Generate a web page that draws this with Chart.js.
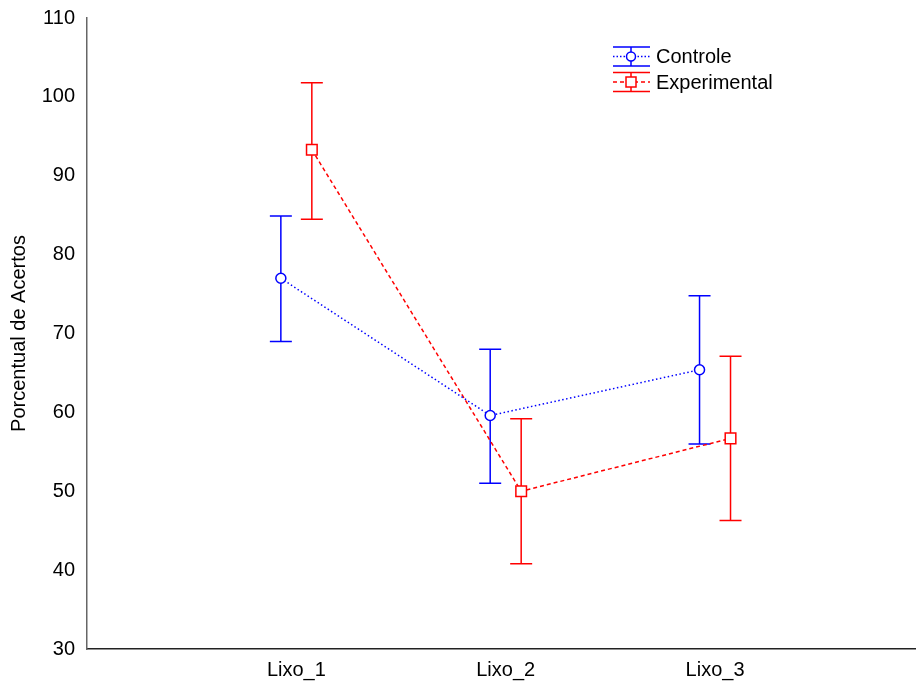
<!DOCTYPE html>
<html>
<head>
<meta charset="utf-8">
<script src="https://cdn.jsdelivr.net/npm/chart.js@4"></script>
<style>
html,body{margin:0;padding:0;background:#fff;}
#wrap{width:916px;height:686px;}
</style>
</head>
<body>
<div id="wrap"><canvas id="c" width="916" height="686"></canvas></div>
<script>
const categories = ["Lixo_1", "Lixo_2", "Lixo_3"];
const seriesNames = ["Controle", "Experimental"];
const controleMean = [77.0, 59.6, 65.4];
const controleUpper = [84.9, 68.0, 74.8];
const controleLower = [69.0, 51.0, 56.0];
const experimentalMean = [93.3, 50.0, 56.7];
const experimentalUpper = [101.8, 59.2, 67.1];
const experimentalLower = [84.5, 40.8, 46.3];
const yTicks = [30, 40, 50, 60, 70, 80, 90, 100, 110];

const OFFSET = 0.074;
const FONT = "'Liberation Sans', Arial, sans-serif";

function pts(means, lows, highs, off) {
  return means.map((m, i) => ({ x: i + 1 + off, y: m, lo: lows[i], hi: highs[i] }));
}

const errorBars = {
  id: 'errorBars',
  beforeDatasetsDraw(chart) {
    const ctx = chart.ctx;
    const ys = chart.scales.y, xs = chart.scales.x;
    chart.data.datasets.forEach(ds => {
      ctx.save();
      ctx.strokeStyle = ds.borderColor;
      ctx.lineWidth = 1.5;
      ctx.setLineDash([]);
      ds.data.forEach(p => {
        const x = xs.getPixelForValue(p.x);
        const y1 = ys.getPixelForValue(p.hi);
        const y2 = ys.getPixelForValue(p.lo);
        ctx.beginPath();
        ctx.moveTo(x, y1); ctx.lineTo(x, y2);
        ctx.moveTo(x - 11, y1); ctx.lineTo(x + 11, y1);
        ctx.moveTo(x - 11, y2); ctx.lineTo(x + 11, y2);
        ctx.stroke();
      });
      ctx.restore();
    });
  }
};

const customLegend = {
  id: 'customLegend',
  afterDraw(chart) {
    const ctx = chart.ctx;
    const items = [
      { name: seriesNames[0], color: 'blue', dash: [1.5, 2], shape: 'circle', cy: 56.5 },
      { name: seriesNames[1], color: 'red', dash: [4, 3], shape: 'rect', cy: 82 }
    ];
    const x0 = 613, x1 = 650, xc = 631;
    items.forEach(it => {
      ctx.save();
      ctx.strokeStyle = it.color;
      ctx.lineWidth = 1.5;
      ctx.setLineDash([]);
      ctx.beginPath();
      ctx.moveTo(x0, it.cy - 9.5); ctx.lineTo(x1, it.cy - 9.5);
      ctx.moveTo(x0, it.cy + 9.5); ctx.lineTo(x1, it.cy + 9.5);
      ctx.moveTo(xc, it.cy - 9.5); ctx.lineTo(xc, it.cy + 9.5);
      ctx.stroke();
      ctx.setLineDash(it.dash);
      ctx.beginPath();
      ctx.moveTo(x0, it.cy); ctx.lineTo(x1, it.cy);
      ctx.stroke();
      ctx.setLineDash([]);
      ctx.fillStyle = '#fff';
      ctx.beginPath();
      if (it.shape === 'circle') ctx.arc(xc, it.cy, 4.5, 0, Math.PI * 2);
      else ctx.rect(xc - 5, it.cy - 5, 10, 10);
      ctx.fill(); ctx.stroke();
      ctx.fillStyle = '#000';
      ctx.font = '20px ' + FONT;
      ctx.textBaseline = 'middle';
      ctx.textAlign = 'left';
      ctx.fillText(it.name, 656, it.cy + 1);
      ctx.restore();
    });
  }
};

new Chart(document.getElementById('c'), {
  type: 'scatter',
  data: {
    datasets: [
      {
        label: seriesNames[0],
        data: pts(controleMean, controleLower, controleUpper, -OFFSET),
        showLine: true,
        borderColor: 'blue',
        backgroundColor: '#fff',
        borderWidth: 1.5,
        borderDash: [1.5, 2.5],
        pointStyle: 'circle',
        pointRadius: 5,
        pointBorderWidth: 1.5,
        pointBackgroundColor: '#fff',
        pointBorderColor: 'blue'
      },
      {
        label: seriesNames[1],
        data: pts(experimentalMean, experimentalLower, experimentalUpper, OFFSET),
        showLine: true,
        borderColor: 'red',
        backgroundColor: '#fff',
        borderWidth: 1.5,
        borderDash: [4, 3],
        pointStyle: 'rect',
        pointRadius: 7.5,
        pointBorderWidth: 1.5,
        pointBackgroundColor: '#fff',
        pointBorderColor: 'red'
      }
    ]
  },
  options: {
    responsive: false,
    animation: false,
    layout: { autoPadding: false, padding: { top: 18, right: 0, bottom: 0, left: 0 } },
    plugins: {
      legend: { display: false },
      tooltip: { enabled: false }
    },
    scales: {
      x: {
        type: 'linear',
        min: 0,
        max: 3.96,
        afterFit(scale) { scale.height = 37; scale.paddingLeft = 0; scale.paddingRight = 0; },
        afterBuildTicks(scale) { scale.ticks = categories.map((c, i) => ({ value: i + 1 })); },
        grid: { display: false, drawTicks: false },
        border: { color: '#222', width: 1.5 },
        ticks: {
          padding: 9,
          color: '#000',
          font: { family: FONT, size: 20 },
          maxRotation: 0,
          callback: (v) => categories[Math.round(v) - 1]
        }
      },
      y: {
        min: 30,
        max: 110,
        afterFit(scale) { scale.width = 87; scale.paddingTop = 0; scale.paddingBottom = 0; },
        afterBuildTicks(scale) { scale.ticks = yTicks.map(v => ({ value: v })); },
        grid: { display: false, drawTicks: false },
        border: { color: '#666', width: 1.5 },
        ticks: {
          padding: 12,
          color: '#000',
          font: { family: FONT, size: 20 }
        },
        title: {
          display: true,
          text: 'Porcentual de Acertos',
          color: '#000',
          font: { family: FONT, size: 20 },
          padding: { top: 7, bottom: 0 }
        }
      }
    }
  },
  plugins: [errorBars, customLegend]
});
</script>
</body>
</html>
